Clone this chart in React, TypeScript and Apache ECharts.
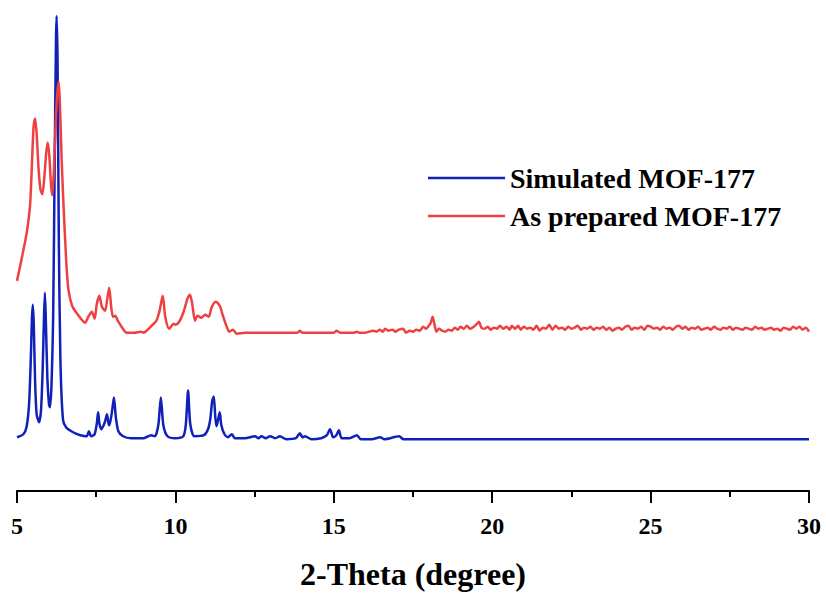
import React, { useEffect, useRef } from "react";
import * as echarts from "echarts";

// Powder XRD patterns, 2θ (degree) vs. relative intensity (a.u.)
const simulatedTheta = [
  5.0, 5.2, 5.3, 5.38, 5.44, 5.47, 5.5, 5.53, 5.57, 5.62, 5.7, 5.76, 5.81, 5.85, 5.88, 5.91, 5.96,
  6.01, 6.04, 6.09, 6.14, 6.19, 6.23, 6.25, 6.28, 6.32, 6.37, 6.45, 6.55, 6.77, 7.0, 7.2, 7.27,
  7.34, 7.45, 7.52, 7.56, 7.6, 7.66, 7.72, 7.78, 7.84, 7.9, 7.94, 8.0, 8.06, 8.12, 8.2, 8.35,
  8.6, 9.0, 9.23, 9.35, 9.46, 9.54, 9.62, 9.75, 10.0, 10.25, 10.33, 10.4, 10.47, 10.6, 10.9, 11.03,
  11.1, 11.16, 11.21, 11.26, 11.3, 11.35, 11.4, 11.45, 11.55, 11.66, 11.78, 11.88, 12.2, 12.51, 12.62, 12.72,
  12.85, 12.99, 13.15, 13.3, 13.5, 13.8, 13.93, 14.01, 14.09, 14.3, 14.6, 14.78, 14.88, 14.98, 15.08, 15.16,
  15.25, 15.5, 15.73, 15.85, 16.2, 16.46, 16.6, 17.06, 17.2, 17.6, 18.0, 19.0, 20.0, 22.0, 24.0, 26.0,
  28.0, 30.0,
];
const simulatedIntensity = [
  2, 5, 12, 35, 85, 120, 135, 115, 60, 25, 17, 30, 70, 120, 147, 120, 60,
  35, 32, 55, 120, 280, 400, 425, 380, 200, 80, 20, 12, 7, 4, 3, 8,
  3, 5, 16, 27, 16, 10, 13, 18, 25, 14, 17, 28, 42, 22, 8, 3,
  1, 1, 4, 3, 14, 42, 14, 3, 1, 3, 15, 49, 15, 3, 4, 10,
  20, 38, 43, 22, 13, 20, 27, 14, 5, 2, 5, 1, 1, 3, 1, 3,
  1, 3, 1, 3, 0, 1, 6, 2, 3, 0, 1, 4, 10, 2, 4, 9,
  1, 1, 4, 0, 0, 2, 0, 3, 0, 0, 0, 0, 0, 0, 0, 0,
  0, 0,
];

const preparedTheta = [
  5.0, 5.1, 5.19, 5.31, 5.41, 5.46, 5.52, 5.57, 5.62, 5.68, 5.74, 5.8, 5.86, 5.92, 5.97, 6.02,
  6.07, 6.11, 6.16, 6.22, 6.27, 6.32, 6.36, 6.41, 6.46, 6.55, 6.62, 6.74, 6.9, 7.15, 7.25, 7.36,
  7.45, 7.52, 7.6, 7.68, 7.78, 7.85, 7.91, 7.98, 8.03, 8.1, 8.18, 8.3, 8.46, 8.7, 8.9, 9.0,
  9.09, 9.25, 9.4, 9.5, 9.6, 9.68, 9.8, 9.95, 10.0, 10.12, 10.26, 10.38, 10.46, 10.53, 10.62, 10.7,
  10.82, 10.94, 11.05, 11.15, 11.28, 11.4, 11.5, 11.62, 11.7, 11.82, 11.93, 12.2, 13.0, 13.85, 13.93, 14.0,
  15.0, 15.09, 15.2, 15.65, 15.72, 15.8, 16.0, 16.24, 16.35, 16.45, 16.55, 16.62, 16.72, 16.85, 16.95, 17.05,
  17.19, 17.28, 17.4, 17.5, 17.6, 17.72, 17.82, 17.92, 18.0, 18.06, 18.12, 18.18, 18.24, 18.32, 18.42, 18.52,
  18.62, 18.72, 18.82, 18.92, 19.0, 19.1, 19.2, 19.3, 19.42, 19.52, 19.58, 19.66, 19.76, 19.86, 19.95, 20.05,
  20.15, 20.25, 20.35, 20.45, 20.55, 20.62, 20.72, 20.82, 20.9, 21.0, 21.1, 21.2, 21.3, 21.4, 21.5, 21.6,
  21.7, 21.8, 21.9, 22.0, 22.1, 22.2, 22.3, 22.4, 22.5, 22.6, 22.7, 22.8, 22.9, 23.0, 23.1, 23.2,
  23.3, 23.4, 23.5, 23.6, 23.7, 23.8, 23.9, 24.0, 24.1, 24.2, 24.3, 24.4, 24.5, 24.6, 24.7, 24.8,
  24.9, 25.0, 25.1, 25.2, 25.3, 25.4, 25.5, 25.6, 25.7, 25.8, 25.9, 26.0, 26.1, 26.2, 26.3, 26.4,
  26.5, 26.6, 26.7, 26.8, 26.9, 27.0, 27.1, 27.2, 27.3, 27.4, 27.5, 27.6, 27.7, 27.8, 27.9, 28.0,
  28.1, 28.2, 28.3, 28.4, 28.5, 28.6, 28.7, 28.8, 28.9, 29.0, 29.1, 29.2, 29.3, 29.4, 29.5, 29.6,
  29.7, 29.8, 29.9, 30.0,
];
const preparedIntensity = [
  52, 67, 81, 101, 127, 160, 205, 215, 200, 165, 144, 139, 155, 180, 191, 178,
  150, 138, 160, 210, 240, 252, 224, 174, 134, 74, 44, 27, 19, 10, 16, 21,
  14, 29, 37, 26, 22, 34, 45, 24, 16, 17, 12, 6, 0, 0, 1, 0,
  2, 7, 12, 22, 37, 16, 4, 9, 8, 11, 21, 34, 38, 29, 12, 17,
  15, 18, 16, 26, 31, 27, 17, 6, 1, 3, -1, 0, 0, 0, 2, 0,
  0, 2, 0, 0, 1, 0, 0, 2, 1, 3, 1, 4, 2, 3, 1, 3,
  4, 0, 2, 1, 3, 2, 6, 4, 7, 10, 16, 8, 1, 4, 2, 1,
  3, 2, 5, 3, 6, 4, 7, 4, 6, 9, 11, 5, 4, 6, 3, 5,
  4, 7, 4, 6, 3, 7, 4, 7, 3, 6, 4, 5, 3, 7, 2, 5,
  4, 8, 3, 7, 4, 5, 3, 6, 4, 5, 7, 3, 5, 4, 6, 3,
  5, 4, 6, 3, 5, 2, 4, 5, 3, 6, 7, 3, 5, 4, 6, 3,
  7, 6, 4, 5, 3, 6, 4, 5, 3, 6, 7, 4, 6, 3, 5, 4,
  6, 3, 4, 5, 3, 6, 4, 3, 5, 4, 6, 3, 5, 4, 3, 5,
  4, 3, 6, 4, 5, 3, 4, 5, 3, 4, 2, 5, 4, 3, 6, 4,
  6, 3, 5, 1,
];

// vertical offsets that stack the two patterns
const simulatedOffset = 52;
const preparedOffset = 159;

const xTicks = [5, 10, 15, 20, 25, 30];

const toSeries = (theta: number[], intensity: number[], offset: number) =>
  theta.map((t, i) => [t, intensity[i] + offset]);

export default function App() {
  const ref = useRef<HTMLDivElement>(null);

  useEffect(() => {
    if (!ref.current) return;
    const chart = echarts.init(ref.current, undefined, { renderer: "svg" });
    const serif = "'Liberation Serif', 'Times New Roman', serif";
    chart.setOption({
      animation: false,
      backgroundColor: "#ffffff",
      grid: { left: 17, right: 17, top: 15, bottom: 102 },
      legend: {
        orient: "vertical",
        left: 423,
        top: 158,
        itemWidth: 77,
        itemHeight: 2.5,
        itemGap: 8,
        icon: "rect",
        textStyle: {
          fontFamily: serif,
          fontWeight: "bold",
          fontSize: 28,
          lineHeight: 30,
          color: "#000",
        },
        data: ["Simulated MOF-177", "As prepared MOF-177"],
      },
      xAxis: {
        type: "value",
        min: xTicks[0],
        max: xTicks[xTicks.length - 1],
        interval: 5,
        name: "2-Theta (degree)",
        nameLocation: "middle",
        nameGap: 67,
        nameTextStyle: {
          fontFamily: serif,
          fontWeight: "bold",
          fontSize: 32,
          color: "#000",
        },
        axisLine: { lineStyle: { color: "#000", width: 2 } },
        axisTick: { show: true, length: 12, lineStyle: { color: "#000", width: 2 } },
        minorTick: { show: true, splitNumber: 2, length: 6, lineStyle: { color: "#000", width: 2 } },
        splitLine: { show: false },
        axisLabel: {
          margin: 23,
          fontFamily: serif,
          fontWeight: "bold",
          fontSize: 24,
          color: "#000",
        },
      },
      yAxis: {
        type: "value",
        min: 0,
        max: 478,
        show: false,
      },
      series: [
        {
          name: "Simulated MOF-177",
          type: "line",
          showSymbol: false,
          symbol: "none",
          smooth: 0.25,
          color: "#1020b8",
          lineStyle: { width: 2.5, color: "#1020b8" },
          data: toSeries(simulatedTheta, simulatedIntensity, simulatedOffset),
        },
        {
          name: "As prepared MOF-177",
          type: "line",
          showSymbol: false,
          symbol: "none",
          smooth: 0.25,
          color: "#ee4040",
          lineStyle: { width: 2.5, color: "#ee4040" },
          data: toSeries(preparedTheta, preparedIntensity, preparedOffset),
        },
      ],
    });
    return () => chart.dispose();
  }, []);

  return (
    <div
      ref={ref}
      style={{ position: "fixed", left: 0, top: 0, width: 826, height: 595, background: "#fff" }}
    />
  );
}
